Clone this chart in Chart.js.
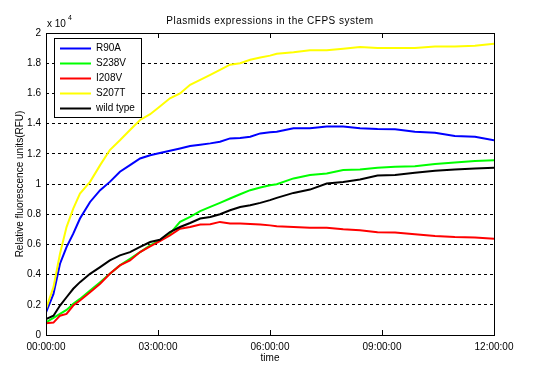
<!DOCTYPE html>
<html>
<head>
<meta charset="utf-8">
<script src="https://cdn.jsdelivr.net/npm/chart.js@4.4.1/dist/chart.umd.min.js"></script>
<style>
  html, body { margin: 0; padding: 0; background: #ffffff; }
  #wrap { width: 542px; height: 383px; position: relative; }
</style>
</head>
<body>
<div id="wrap"><canvas id="c" width="542" height="383"></canvas></div>
<script>
// time in hours
const timeHours = [0, 0.2, 0.375, 0.55, 0.73, 0.91, 1.18, 1.45, 1.71, 1.98,
  2.25, 2.52, 2.79, 3.05, 3.32, 3.59, 3.86, 4.13, 4.4, 4.66,
  4.93, 5.2, 5.47, 5.74, 6.0, 6.18, 6.63, 7.07, 7.52, 7.96,
  8.41, 8.88, 9.35, 9.88, 10.42, 10.95, 11.49, 12];

// values in units of 10^4 RFU
const r90a = [0.15, 0.272, 0.472, 0.582, 0.671, 0.771, 0.881, 0.959, 1.014, 1.081,
  1.125, 1.169, 1.19, 1.205, 1.22, 1.235, 1.251, 1.26, 1.269, 1.28,
  1.302, 1.305, 1.313, 1.335, 1.342, 1.346, 1.369, 1.369, 1.38, 1.38,
  1.369, 1.364, 1.362, 1.346, 1.34, 1.318, 1.313, 1.29];
const s238v = [0.084, 0.113, 0.14, 0.166, 0.206, 0.239, 0.295, 0.35, 0.405, 0.461,
  0.505, 0.549, 0.594, 0.627, 0.671, 0.749, 0.782, 0.82, 0.848, 0.875,
  0.904, 0.932, 0.959, 0.977, 0.992, 0.999, 1.037, 1.059, 1.07, 1.092,
  1.096, 1.108, 1.114, 1.118, 1.132, 1.143, 1.152, 1.158];
const i208v = [0.078, 0.082, 0.128, 0.14, 0.195, 0.228, 0.283, 0.339, 0.405, 0.461,
  0.494, 0.549, 0.587, 0.622, 0.66, 0.704, 0.715, 0.731, 0.733, 0.749,
  0.738, 0.738, 0.735, 0.731, 0.726, 0.72, 0.715, 0.711, 0.711, 0.7,
  0.693, 0.68, 0.678, 0.667, 0.656, 0.649, 0.645, 0.638];
const s207t = [0.173, 0.317, 0.538, 0.715, 0.837, 0.937, 1.014, 1.125, 1.225, 1.29,
  1.358, 1.424, 1.462, 1.513, 1.568, 1.6, 1.657, 1.69, 1.723, 1.756,
  1.79, 1.8, 1.823, 1.838, 1.85, 1.863, 1.872, 1.885, 1.885, 1.896,
  1.907, 1.9, 1.9, 1.9, 1.911, 1.911, 1.916, 1.929];
const wildType = [0.106, 0.128, 0.195, 0.25, 0.306, 0.35, 0.405, 0.45, 0.494, 0.527,
  0.549, 0.583, 0.616, 0.631, 0.682, 0.715, 0.742, 0.771, 0.782, 0.8,
  0.826, 0.848, 0.859, 0.875, 0.893, 0.908, 0.941, 0.963, 1.003, 1.014,
  1.03, 1.056, 1.059, 1.074, 1.087, 1.096, 1.103, 1.107];

const seriesNames = ['R90A', 'S238V', 'I208V', 'S207T', 'wild type'];
const seriesColors = ['#0000ff', '#00ff00', '#ff0000', '#ffff00', '#000000'];
const seriesValues = [r90a, s238v, i208v, s207t, wildType];

const xTickHours = [0, 3, 6, 9, 12];
const chartTitle = 'Plasmids expressions in the CFPS system';
const xTitle = 'time';
const yTitle = 'Relative fluorescence units(RFU)';

const FONT = '"Liberation Sans", Arial, sans-serif';

function fmtTime(h) {
  const hh = String(Math.round(h)).padStart(2, '0');
  return hh + ':00:00';
}

const datasets = seriesNames.map((name, i) => ({
  label: name,
  data: timeHours.map((t, k) => ({ x: t, y: seriesValues[i][k] })),
  borderColor: seriesColors[i],
  backgroundColor: seriesColors[i],
  borderWidth: 2,
  pointRadius: 0,
  tension: 0,
  fill: false,
  order: seriesNames.length - 1 - i
}));

const decorPlugin = {
  id: 'decor',
  afterDraw(chart) {
    const ctx = chart.ctx;
    const a = chart.chartArea;
    const xs = chart.scales.x;
    ctx.save();
    // axes box
    ctx.strokeStyle = '#000';
    ctx.lineWidth = 1;
    ctx.setLineDash([]);
    ctx.strokeRect(Math.round(a.left) + 0.5, Math.round(a.top) + 0.5,
      Math.round(a.right - a.left), Math.round(a.bottom - a.top));
    // inward x ticks at top and bottom
    xTickHours.forEach(h => {
      const px = Math.round(xs.getPixelForValue(h)) + 0.5;
      ctx.beginPath();
      ctx.moveTo(px, a.bottom); ctx.lineTo(px, a.bottom - 5);
      ctx.moveTo(px, a.top); ctx.lineTo(px, a.top + 5);
      ctx.stroke();
    });
    // title
    ctx.fillStyle = '#000';
    ctx.font = '10px ' + FONT;
    ctx.textAlign = 'center';
    ctx.textBaseline = 'middle';
    try { ctx.letterSpacing = '0.5px'; } catch (e) {}
    ctx.fillText(chartTitle, (a.left + a.right) / 2, 21);
    try { ctx.letterSpacing = '0px'; } catch (e) {}
    // x title
    ctx.font = '10px ' + FONT;
    ctx.fillText(xTitle, (a.left + a.right) / 2, 358);
    // y title
    ctx.save();
    ctx.translate(20, (a.top + a.bottom) / 2);
    ctx.rotate(-Math.PI / 2);
    ctx.fillText(yTitle, 0, 0);
    ctx.restore();
    // exponent
    ctx.textAlign = 'left';
    ctx.font = '10px ' + FONT;
    ctx.fillText('x 10', 47, 24);
    ctx.font = '7px ' + FONT;
    ctx.fillText('4', 68, 18);
    // legend box
    const lx = 54, ly = 38, lw = 87, lh = 79;
    ctx.fillStyle = '#fff';
    ctx.fillRect(lx, ly, lw, lh);
    ctx.strokeStyle = '#000';
    ctx.lineWidth = 1;
    ctx.strokeRect(lx + 0.5, ly + 0.5, lw, lh);
    ctx.font = '10px ' + FONT;
    ctx.textBaseline = 'middle';
    chart.data.datasets.forEach((ds, i) => {
      const yy = 48.5 + i * 15;
      ctx.strokeStyle = ds.borderColor;
      ctx.lineWidth = 2;
      ctx.beginPath();
      ctx.moveTo(60, yy); ctx.lineTo(91, yy);
      ctx.stroke();
      ctx.fillStyle = '#000';
      ctx.fillText(ds.label, 96, yy);
    });
    ctx.restore();
  }
};

new Chart(document.getElementById('c'), {
  type: 'line',
  data: { datasets },
  options: {
    responsive: false,
    animation: false,
    devicePixelRatio: 1,
    layout: { padding: { top: 33, right: 48, left: 0, bottom: 0 } },
    plugins: {
      legend: { display: false },
      title: { display: false },
      tooltip: { enabled: false }
    },
    scales: {
      x: {
        type: 'linear',
        min: 0, max: 12,
        afterFit(s) { s.height = 48; },
        afterBuildTicks(s) { s.ticks = xTickHours.map(v => ({ value: v })); },
        border: { display: false },
        grid: { display: false, drawTicks: false },
        ticks: {
          color: '#000',
          font: { family: FONT, size: 10 },
          padding: 6,
          maxRotation: 0,
          autoSkip: false,
          callback: v => fmtTime(v)
        }
      },
      y: {
        min: 0, max: 2,
        afterFit(s) { s.width = 46; },
        border: { display: false, dash: [3, 3] },
        grid: {
          color: '#000',
          lineWidth: 1,
          drawTicks: false
        },
        ticks: {
          stepSize: 0.2,
          color: '#000',
          font: { family: FONT, size: 10 },
          padding: 5,
          callback: v => String(Number(v.toFixed(1)))
        }
      }
    }
  },
  plugins: [decorPlugin]
});
</script>
</body>
</html>
